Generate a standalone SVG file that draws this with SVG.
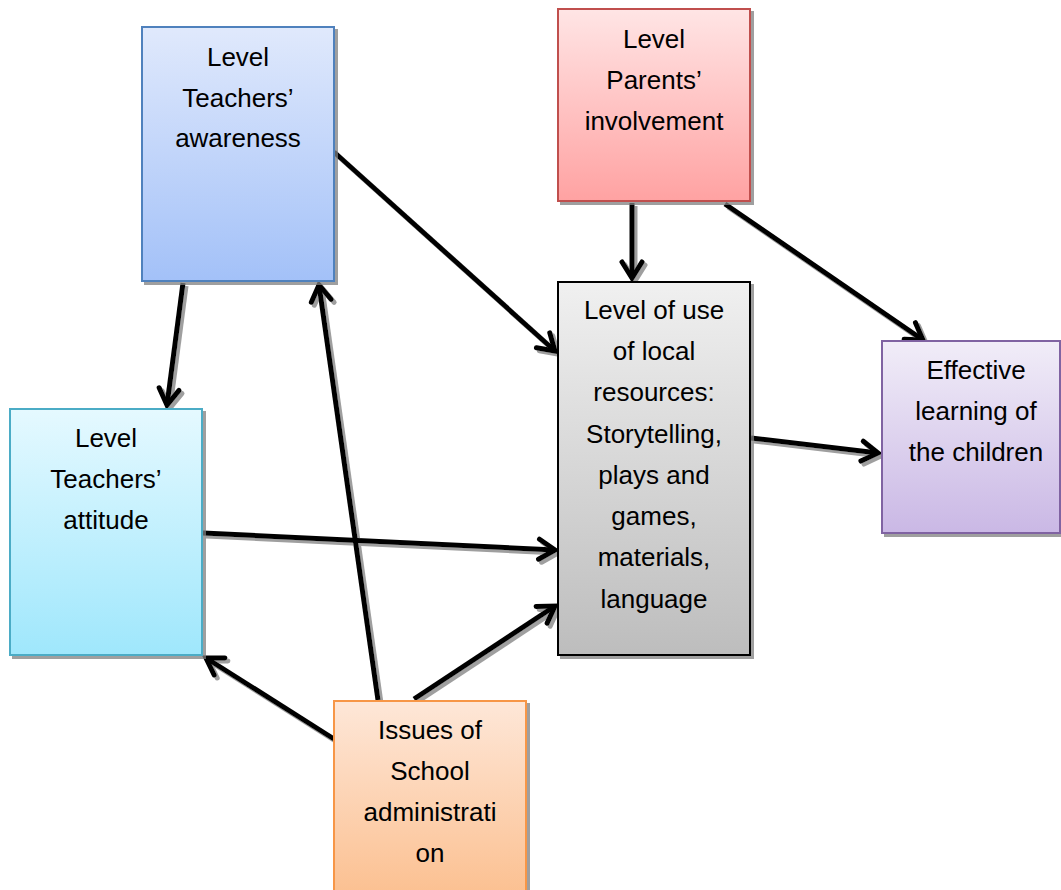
<svg xmlns="http://www.w3.org/2000/svg" width="1061" height="890" viewBox="0 0 1061 890">
  <defs>
    <linearGradient id="gBlue" x1="0" y1="0" x2="0" y2="1"><stop offset="0" stop-color="#e0e9fc"/><stop offset="1" stop-color="#a3c1f8"/></linearGradient>
    <linearGradient id="gRed" x1="0" y1="0" x2="0" y2="1"><stop offset="0" stop-color="#ffe5e5"/><stop offset="1" stop-color="#ffa2a2"/></linearGradient>
    <linearGradient id="gGrey" x1="0" y1="0" x2="0" y2="1"><stop offset="0" stop-color="#f0f0f0"/><stop offset="1" stop-color="#bdbdbd"/></linearGradient>
    <linearGradient id="gPurple" x1="0" y1="0" x2="0" y2="1"><stop offset="0" stop-color="#f1edf8"/><stop offset="1" stop-color="#cab8e5"/></linearGradient>
    <linearGradient id="gCyan" x1="0" y1="0" x2="0" y2="1"><stop offset="0" stop-color="#e5f9ff"/><stop offset="1" stop-color="#9fe7fc"/></linearGradient>
    <linearGradient id="gOrange" x1="0" y1="0" x2="0" y2="1"><stop offset="0" stop-color="#fee7d8"/><stop offset="1" stop-color="#fbbd8b"/></linearGradient>
    <filter id="shadow" x="-20%" y="-20%" width="140%" height="140%">
      <feDropShadow dx="3" dy="3" stdDeviation="0.6" flood-color="#7f7f7f" flood-opacity="0.75"/>
    </filter>
    <marker id="arrow" markerUnits="userSpaceOnUse" markerWidth="30" markerHeight="30" refX="0" refY="0" viewBox="-22 -15 30 30" orient="auto">
      <path d="M -16 -10 L 0 0 L -16 10" fill="none" stroke="#000" stroke-width="5" stroke-linejoin="miter" stroke-linecap="round"/>
    </marker>
  </defs>
  <style>
    .box { stroke-width: 2; filter: url(#shadow); }
    .lbl { font-family: "Liberation Sans", Arial, sans-serif; font-size: 26px; fill: #000; text-anchor: middle; }
    .conn line { stroke: #000; stroke-width: 5; fill: none; marker-end: url(#arrow); }
  </style>

  <g id="connectors" filter="url(#shadow)" class="conn">
    <line x1="334" y1="152" x2="555" y2="351"/>
    <line x1="632" y1="203" x2="632" y2="278"/>
    <line x1="725" y1="204" x2="923" y2="340"/>
    <line x1="183" y1="283" x2="167" y2="405"/>
    <line x1="378" y1="700" x2="319" y2="285"/>
    <line x1="203" y1="533" x2="555" y2="550"/>
    <line x1="414" y1="699" x2="555" y2="606"/>
    <line x1="334" y1="739" x2="206" y2="658"/>
    <line x1="751" y1="438" x2="878" y2="453"/>
  </g>

  <g id="node-awareness">
    <rect class="box" x="142" y="27" width="192" height="254" fill="url(#gBlue)" stroke="#4f81bd"/>
    <text class="lbl" x="238" y="66">Level</text>
    <text class="lbl" x="238" y="107">Teachers’</text>
    <text class="lbl" x="238" y="147">awareness</text>
  </g>

  <g id="node-parents">
    <rect class="box" x="558" y="9" width="192" height="192" fill="url(#gRed)" stroke="#c0504d"/>
    <text class="lbl" x="654" y="48">Level</text>
    <text class="lbl" x="654" y="89">Parents’</text>
    <text class="lbl" x="654" y="130">involvement</text>
  </g>

  <g id="node-resources">
    <rect class="box" x="558" y="282" width="192" height="373" fill="url(#gGrey)" stroke="#000"/>
    <text class="lbl" x="654" y="319">Level of use</text>
    <text class="lbl" x="654" y="360">of local</text>
    <text class="lbl" x="654" y="401">resources:</text>
    <text class="lbl" x="654" y="443">Storytelling,</text>
    <text class="lbl" x="654" y="484">plays and</text>
    <text class="lbl" x="654" y="525">games,</text>
    <text class="lbl" x="654" y="566">materials,</text>
    <text class="lbl" x="654" y="608">language</text>
  </g>

  <g id="node-effective">
    <rect class="box" x="882" y="341" width="178" height="192" fill="url(#gPurple)" stroke="#8064a2"/>
    <text class="lbl" x="976" y="379">Effective</text>
    <text class="lbl" x="976" y="420">learning of</text>
    <text class="lbl" x="976" y="461">the children</text>
  </g>

  <g id="node-attitude">
    <rect class="box" x="10" y="409" width="192" height="246" fill="url(#gCyan)" stroke="#4bacc6"/>
    <text class="lbl" x="106" y="447">Level</text>
    <text class="lbl" x="106" y="488">Teachers’</text>
    <text class="lbl" x="106" y="529">attitude</text>
  </g>

  <g id="node-issues">
    <rect class="box" x="334" y="701" width="192" height="210" fill="url(#gOrange)" stroke="#f79646"/>
    <text class="lbl" x="430" y="739">Issues of</text>
    <text class="lbl" x="430" y="780">School</text>
    <text class="lbl" x="430" y="821">administrati</text>
    <text class="lbl" x="430" y="862">on</text>
  </g>
</svg>
